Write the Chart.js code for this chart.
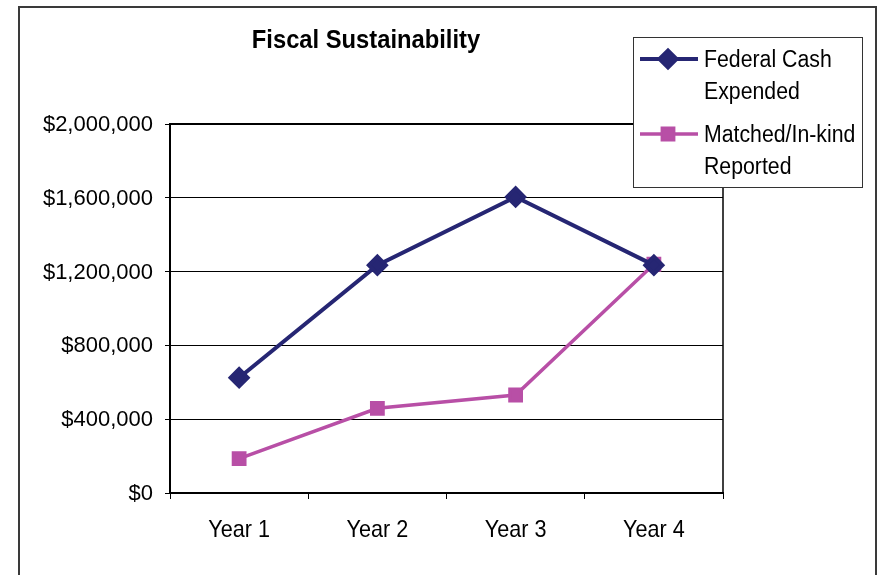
<!DOCTYPE html>
<html>
<head>
<meta charset="utf-8">
<script src="https://cdn.jsdelivr.net/npm/chart.js@4.4.1/dist/chart.umd.min.js"></script>
<style>
    html, body { margin: 0; padding: 0; background: #fff; }
    #wrap { width: 881px; height: 575px; position: relative; }
</style>
</head>
<body>
<div id="wrap"><canvas id="fiscalChart" width="881" height="575"></canvas></div>
<script>
// ==================== DATA ====================
const chartTitle = 'Fiscal Sustainability';
const years = ['Year 1', 'Year 2', 'Year 3', 'Year 4'];
const federalCash = [625000, 1235000, 1605000, 1235000];
const matchedInKind = [186000, 459000, 531000, 1240000];
const legendFederal = ['Federal Cash', 'Expended'];
const legendMatched = ['Matched/In-kind', 'Reported'];
const yMin = 0;
const yMax = 2000000;
const yStep = 400000;

const NAVY = '#262673';
const PINK = '#b84fa6';
const FONT = '"Liberation Sans", Arial, sans-serif';

const money = v => '$' + Number(v).toLocaleString('en-US');

// text in the original is a little condensed, so squeeze it horizontally
function squeezedText(ctx, text, x, y, sx, align) {
    ctx.save();
    ctx.translate(x, y);
    ctx.scale(sx, 1);
    ctx.textAlign = align;
    ctx.textBaseline = 'alphabetic';
    ctx.fillText(text, 0, 0);
    ctx.restore();
}

// outer frame, plot frame, axis labels, title and the two-line legend
const decorations = {
    id: 'decorations',
    beforeDatasetsDraw(chart) {
        const { ctx, chartArea: a } = chart;
        ctx.save();
        ctx.strokeStyle = '#000';
        ctx.lineWidth = 2;
        ctx.beginPath();
        ctx.moveTo(a.left, a.top);
        ctx.lineTo(a.right, a.top);
        ctx.stroke();
        ctx.lineWidth = 1.5;
        ctx.beginPath();
        ctx.moveTo(a.right, a.top);
        ctx.lineTo(a.right, a.bottom);
        ctx.stroke();
        ctx.restore();
    },
    afterDraw(chart) {
        const { ctx, chartArea: a } = chart;
        const xs = chart.scales.x, ys = chart.scales.y;
        ctx.save();
        ctx.fillStyle = '#000';

        // y tick labels
        ctx.font = '22px ' + FONT;
        ys.ticks.forEach((t, i) => {
            squeezedText(ctx, money(t.value), a.left - 17, ys.getPixelForTick(i) + 7, 1, 'right');
        });

        // x tick labels
        ctx.font = '24px ' + FONT;
        chart.data.labels.forEach((lbl, i) => {
            squeezedText(ctx, lbl, xs.getPixelForTick(i), a.bottom + 44, 0.9, 'center');
        });

        // outer border
        ctx.strokeStyle = '#3a3a3a';
        ctx.lineWidth = 2;
        ctx.strokeRect(19, 7, 857, 580);

        // title
        ctx.font = 'bold 25px ' + FONT;
        squeezedText(ctx, chartTitle, 366, 48, 0.95, 'center');

        // legend box
        const bx = 633, by = 37, bw = 229, bh = 150;
        ctx.fillStyle = '#fff';
        ctx.fillRect(bx, by, bw, bh);
        ctx.strokeStyle = '#333';
        ctx.lineWidth = 1;
        ctx.strokeRect(bx + 0.5, by + 0.5, bw, bh);

        const entries = [
            { lines: legendFederal, ds: chart.data.datasets[0], y: 59 },
            { lines: legendMatched, ds: chart.data.datasets[1], y: 134 }
        ];
        entries.forEach(e => {
            ctx.strokeStyle = e.ds.borderColor;
            ctx.lineWidth = e.ds.borderWidth;
            ctx.beginPath();
            ctx.moveTo(640, e.y);
            ctx.lineTo(698, e.y);
            ctx.stroke();
            Chart.helpers.drawPoint(ctx, {
                pointStyle: e.ds.pointStyle,
                radius: e.ds.pointRadius,
                rotation: 0,
                borderWidth: 1
            }, 668, e.y);
            ctx.fillStyle = e.ds.pointBackgroundColor;
            ctx.fill();

            ctx.fillStyle = '#000';
            ctx.font = '23px ' + FONT;
            e.lines.forEach((t, i) => squeezedText(ctx, t, 704, e.y + 8 + i * 32, 0.925, 'left'));
        });
        ctx.restore();
    }
};

const ctx = document.getElementById('fiscalChart').getContext('2d');
new Chart(ctx, {
    type: 'line',
    data: {
        labels: years,
        datasets: [
            {
                label: legendFederal.join(' '),
                data: federalCash,
                borderColor: NAVY,
                backgroundColor: NAVY,
                pointBackgroundColor: NAVY,
                pointBorderColor: NAVY,
                borderWidth: 4,
                pointStyle: 'rectRot',
                pointRadius: 8.5,
                pointHoverRadius: 8.5,
                tension: 0,
                fill: false
            },
            {
                label: legendMatched.join(' '),
                data: matchedInKind,
                borderColor: PINK,
                backgroundColor: PINK,
                pointBackgroundColor: PINK,
                pointBorderColor: PINK,
                borderWidth: 3.5,
                pointStyle: 'rect',
                pointRadius: 8,
                pointHoverRadius: 8,
                tension: 0,
                fill: false
            }
        ]
    },
    options: {
        responsive: false,
        animation: false,
        layout: { padding: { left: 20, top: 124, right: 158, bottom: 0 } },
        plugins: {
            legend: { display: false },
            title: { display: false },
            tooltip: { enabled: false }
        },
        scales: {
            x: {
                offset: true,
                afterFit: s => { s.height = 82; },
                grid: {
                    offset: true,
                    drawOnChartArea: false,
                    drawTicks: true,
                    tickLength: 6,
                    color: '#000',
                    lineWidth: 1
                },
                border: { display: true, color: '#000', width: 2 },
                ticks: { display: false }
            },
            y: {
                min: yMin,
                max: yMax,
                afterFit: s => { s.width = 150; },
                grid: {
                    color: '#000',
                    lineWidth: 1,
                    drawTicks: true,
                    tickLength: 5
                },
                border: { display: true, color: '#000', width: 2 },
                ticks: { display: false, stepSize: yStep }
            }
        }
    },
    plugins: [decorations]
});
</script>
</body>
</html>
